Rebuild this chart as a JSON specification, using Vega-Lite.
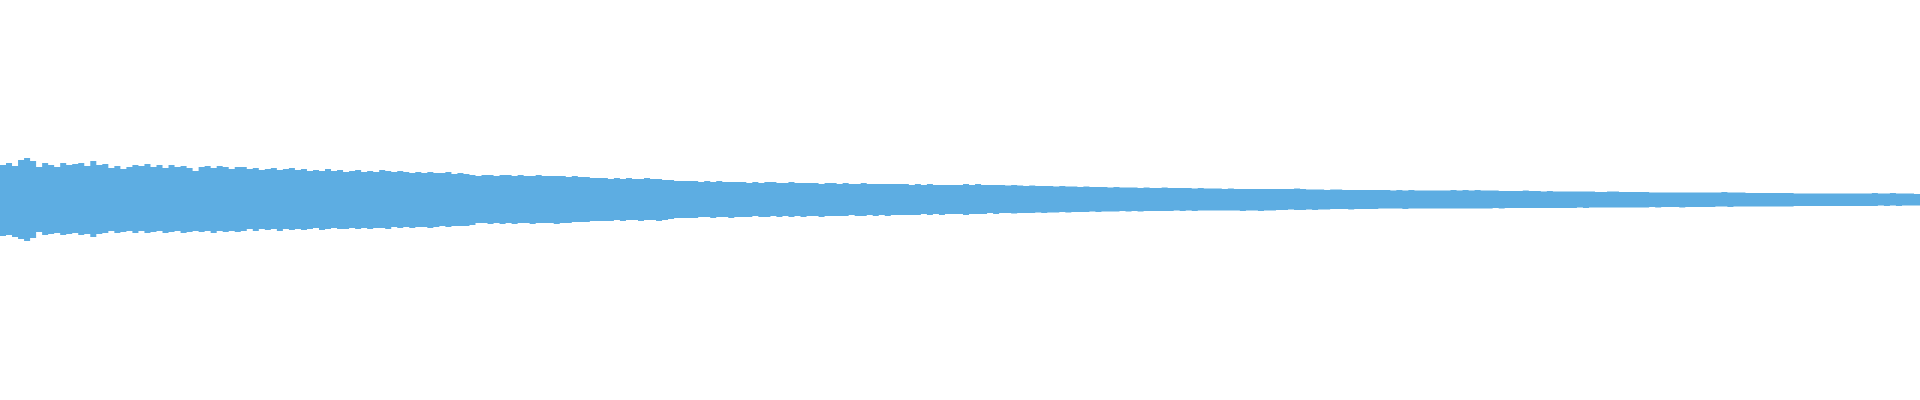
{
  "$schema": "https://vega.github.io/schema/vega-lite/v6.json",
  "width": 1920,
  "height": 400,
  "autosize": {"type": "fit", "contains": "padding"},
  "padding": 0,
  "background": "white",
  "config": {"view": {"stroke": null}},
  "data": {"values": [
{"t":0,"hi":35,"lo":-36},{"t":1,"hi":37,"lo":-35},{"t":2,"hi":34,"lo":-37},{"t":3,"hi":40,"lo":-39},{"t":4,"hi":42,"lo":-41},{"t":5,"hi":39,"lo":-38},{"t":6,"hi":33,"lo":-32},{"t":7,"hi":37,"lo":-35},{"t":8,"hi":35,"lo":-34},{"t":9,"hi":33,"lo":-33},
{"t":10,"hi":37,"lo":-35},{"t":11,"hi":35,"lo":-34},{"t":12,"hi":36,"lo":-33},{"t":13,"hi":37,"lo":-35},{"t":14,"hi":34,"lo":-34},{"t":15,"hi":39,"lo":-37},{"t":16,"hi":35,"lo":-34},{"t":17,"hi":36,"lo":-33},{"t":18,"hi":32,"lo":-31},{"t":19,"hi":34,"lo":-33},
{"t":20,"hi":31,"lo":-32},{"t":21,"hi":33,"lo":-31},{"t":22,"hi":35,"lo":-33},{"t":23,"hi":34,"lo":-31},{"t":24,"hi":36,"lo":-33},{"t":25,"hi":33,"lo":-32},{"t":26,"hi":35,"lo":-31},{"t":27,"hi":32,"lo":-33},{"t":28,"hi":35,"lo":-32},{"t":29,"hi":33,"lo":-31},
{"t":30,"hi":34,"lo":-33},{"t":31,"hi":32,"lo":-32},{"t":32,"hi":29,"lo":-31},{"t":33,"hi":33,"lo":-32},{"t":34,"hi":34,"lo":-31},{"t":35,"hi":32,"lo":-33},{"t":36,"hi":34,"lo":-31},{"t":37,"hi":33,"lo":-32},{"t":38,"hi":31,"lo":-31},{"t":39,"hi":33,"lo":-32},
{"t":40,"hi":33,"lo":-31},{"t":41,"hi":31,"lo":-29},{"t":42,"hi":32,"lo":-31},{"t":43,"hi":30,"lo":-29},{"t":44,"hi":31,"lo":-30},{"t":45,"hi":32,"lo":-29},{"t":46,"hi":30,"lo":-31},{"t":47,"hi":31,"lo":-29},{"t":48,"hi":32,"lo":-30},{"t":49,"hi":30,"lo":-29},
{"t":50,"hi":31,"lo":-30},{"t":51,"hi":29,"lo":-29},{"t":52,"hi":30,"lo":-28},{"t":53,"hi":29,"lo":-30},{"t":54,"hi":31,"lo":-29},{"t":55,"hi":29,"lo":-28},{"t":56,"hi":30,"lo":-29},{"t":57,"hi":28,"lo":-29},{"t":58,"hi":29,"lo":-28},{"t":59,"hi":30,"lo":-29},
{"t":60,"hi":28,"lo":-28},{"t":61,"hi":29,"lo":-29},{"t":62,"hi":28,"lo":-28},{"t":63,"hi":30,"lo":-28},{"t":64,"hi":29,"lo":-29},{"t":65,"hi":28,"lo":-27},{"t":66,"hi":29,"lo":-28},{"t":67,"hi":28,"lo":-27},{"t":68,"hi":27,"lo":-28},{"t":69,"hi":28,"lo":-27},
{"t":70,"hi":27,"lo":-27},{"t":71,"hi":28,"lo":-28},{"t":72,"hi":27,"lo":-27},{"t":73,"hi":27,"lo":-26},{"t":74,"hi":28,"lo":-27},{"t":75,"hi":26,"lo":-26},{"t":76,"hi":27,"lo":-26},{"t":77,"hi":26,"lo":-26},{"t":78,"hi":25,"lo":-25},{"t":79,"hi":24,"lo":-23},
{"t":80,"hi":25,"lo":-23},{"t":81,"hi":25,"lo":-24},{"t":82,"hi":24,"lo":-23},{"t":83,"hi":25,"lo":-24},{"t":84,"hi":25,"lo":-23},{"t":85,"hi":24,"lo":-24},{"t":86,"hi":25,"lo":-23},{"t":87,"hi":24,"lo":-23},{"t":88,"hi":24,"lo":-24},{"t":89,"hi":25,"lo":-23},
{"t":90,"hi":24,"lo":-23},{"t":91,"hi":24,"lo":-23},{"t":92,"hi":24,"lo":-24},{"t":93,"hi":24,"lo":-23},{"t":94,"hi":23,"lo":-23},{"t":95,"hi":24,"lo":-22},{"t":96,"hi":23,"lo":-22},{"t":97,"hi":23,"lo":-22},{"t":98,"hi":22,"lo":-21},{"t":99,"hi":22,"lo":-21},
{"t":100,"hi":22,"lo":-21},{"t":101,"hi":21,"lo":-21},{"t":102,"hi":22,"lo":-20},{"t":103,"hi":21,"lo":-21},{"t":104,"hi":22,"lo":-20},{"t":105,"hi":21,"lo":-20},{"t":106,"hi":21,"lo":-21},{"t":107,"hi":22,"lo":-20},{"t":108,"hi":21,"lo":-20},{"t":109,"hi":21,"lo":-21},
{"t":110,"hi":20,"lo":-20},{"t":111,"hi":20,"lo":-19},{"t":112,"hi":19,"lo":-18},{"t":113,"hi":19,"lo":-18},{"t":114,"hi":19,"lo":-18},{"t":115,"hi":19,"lo":-18},{"t":116,"hi":18,"lo":-17},{"t":117,"hi":19,"lo":-17},{"t":118,"hi":18,"lo":-18},{"t":119,"hi":19,"lo":-17},
{"t":120,"hi":18,"lo":-17},{"t":121,"hi":18,"lo":-18},{"t":122,"hi":18,"lo":-17},{"t":123,"hi":18,"lo":-17},{"t":124,"hi":17,"lo":-17},{"t":125,"hi":18,"lo":-16},{"t":126,"hi":17,"lo":-17},{"t":127,"hi":18,"lo":-17},{"t":128,"hi":18,"lo":-16},{"t":129,"hi":17,"lo":-17},
{"t":130,"hi":17,"lo":-16},{"t":131,"hi":18,"lo":-17},{"t":132,"hi":17,"lo":-16},{"t":133,"hi":17,"lo":-17},{"t":134,"hi":17,"lo":-16},{"t":135,"hi":17,"lo":-16},{"t":136,"hi":16,"lo":-17},{"t":137,"hi":17,"lo":-16},{"t":138,"hi":17,"lo":-16},{"t":139,"hi":16,"lo":-16},
{"t":140,"hi":17,"lo":-16},{"t":141,"hi":16,"lo":-15},{"t":142,"hi":16,"lo":-16},{"t":143,"hi":17,"lo":-16},{"t":144,"hi":16,"lo":-15},{"t":145,"hi":16,"lo":-16},{"t":146,"hi":16,"lo":-15},{"t":147,"hi":16,"lo":-16},{"t":148,"hi":16,"lo":-15},{"t":149,"hi":16,"lo":-15},
{"t":150,"hi":16,"lo":-15},{"t":151,"hi":15,"lo":-15},{"t":152,"hi":16,"lo":-15},{"t":153,"hi":15,"lo":-14},{"t":154,"hi":16,"lo":-15},{"t":155,"hi":15,"lo":-14},{"t":156,"hi":15,"lo":-15},{"t":157,"hi":15,"lo":-14},{"t":158,"hi":15,"lo":-14},{"t":159,"hi":15,"lo":-14},
{"t":160,"hi":16,"lo":-15},{"t":161,"hi":15,"lo":-14},{"t":162,"hi":16,"lo":-14},{"t":163,"hi":15,"lo":-14},{"t":164,"hi":15,"lo":-13},{"t":165,"hi":15,"lo":-14},{"t":166,"hi":15,"lo":-13},{"t":167,"hi":14.5,"lo":-13},{"t":168,"hi":15,"lo":-13.5},{"t":169,"hi":14.5,"lo":-13},
{"t":170,"hi":14,"lo":-13},{"t":171,"hi":14.5,"lo":-13},{"t":172,"hi":14,"lo":-12.5},{"t":173,"hi":14,"lo":-13},{"t":174,"hi":14,"lo":-12.5},{"t":175,"hi":13.5,"lo":-12.5},{"t":176,"hi":14,"lo":-12},{"t":177,"hi":13.5,"lo":-12.5},{"t":178,"hi":13.5,"lo":-12},{"t":179,"hi":13,"lo":-12},
{"t":180,"hi":13.5,"lo":-12},{"t":181,"hi":13,"lo":-11.5},{"t":182,"hi":13,"lo":-12},{"t":183,"hi":13,"lo":-11.5},{"t":184,"hi":12.5,"lo":-11.5},{"t":185,"hi":13,"lo":-11.5},{"t":186,"hi":12.5,"lo":-11},{"t":187,"hi":12.5,"lo":-11.5},{"t":188,"hi":12.5,"lo":-11},{"t":189,"hi":12,"lo":-11.5},
{"t":190,"hi":12.5,"lo":-11},{"t":191,"hi":12,"lo":-11},{"t":192,"hi":12,"lo":-11},{"t":193,"hi":12.5,"lo":-11},{"t":194,"hi":12,"lo":-11},{"t":195,"hi":12,"lo":-10.5},{"t":196,"hi":12,"lo":-11},{"t":197,"hi":12,"lo":-10.5},{"t":198,"hi":11.5,"lo":-11},{"t":199,"hi":12,"lo":-10.5},
{"t":200,"hi":11.5,"lo":-10.5},{"t":201,"hi":11.5,"lo":-10.5},{"t":202,"hi":11.5,"lo":-10.5},{"t":203,"hi":11,"lo":-10.5},{"t":204,"hi":11.5,"lo":-10.5},{"t":205,"hi":11,"lo":-10.5},{"t":206,"hi":11,"lo":-11},{"t":207,"hi":11,"lo":-10.5},{"t":208,"hi":11,"lo":-10.5},{"t":209,"hi":11,"lo":-11},
{"t":210,"hi":11,"lo":-10.5},{"t":211,"hi":11,"lo":-10.5},{"t":212,"hi":11,"lo":-10},{"t":213,"hi":11,"lo":-10},{"t":214,"hi":11,"lo":-9.5},{"t":215,"hi":11.5,"lo":-10},{"t":216,"hi":11,"lo":-10},{"t":217,"hi":10.5,"lo":-9.5},{"t":218,"hi":10.5,"lo":-10},{"t":219,"hi":10.5,"lo":-9.5},
{"t":220,"hi":10,"lo":-9.5},{"t":221,"hi":10.5,"lo":-9},{"t":222,"hi":10.5,"lo":-9},{"t":223,"hi":10,"lo":-9},{"t":224,"hi":10,"lo":-9.5},{"t":225,"hi":10,"lo":-9},{"t":226,"hi":10,"lo":-9},{"t":227,"hi":10,"lo":-9},{"t":228,"hi":10,"lo":-9},{"t":229,"hi":10,"lo":-8.5},
{"t":230,"hi":10,"lo":-8.5},{"t":231,"hi":9.5,"lo":-8.5},{"t":232,"hi":10,"lo":-8.5},{"t":233,"hi":9.5,"lo":-9},{"t":234,"hi":10,"lo":-8.5},{"t":235,"hi":9.5,"lo":-8.5},{"t":236,"hi":9.5,"lo":-8.5},{"t":237,"hi":9.5,"lo":-8.5},{"t":238,"hi":9.5,"lo":-8.5},{"t":239,"hi":9.5,"lo":-8.5},
{"t":240,"hi":9.5,"lo":-8.5},{"t":241,"hi":10,"lo":-8.5},{"t":242,"hi":9.5,"lo":-8.5},{"t":243,"hi":10,"lo":-8.5},{"t":244,"hi":9.5,"lo":-8.5},{"t":245,"hi":10,"lo":-8.5},{"t":246,"hi":9.5,"lo":-8.5},{"t":247,"hi":9.5,"lo":-8.5},{"t":248,"hi":9.5,"lo":-8},{"t":249,"hi":9,"lo":-8.5},
{"t":250,"hi":9,"lo":-8},{"t":251,"hi":9,"lo":-8},{"t":252,"hi":9,"lo":-8},{"t":253,"hi":9.5,"lo":-8},{"t":254,"hi":9,"lo":-8},{"t":255,"hi":9,"lo":-8},{"t":256,"hi":8.5,"lo":-8},{"t":257,"hi":9,"lo":-8},{"t":258,"hi":8.5,"lo":-8},{"t":259,"hi":8.5,"lo":-8},
{"t":260,"hi":8.5,"lo":-8},{"t":261,"hi":8.5,"lo":-8},{"t":262,"hi":8.5,"lo":-7.5},{"t":263,"hi":8.5,"lo":-8},{"t":264,"hi":8.5,"lo":-7.5},{"t":265,"hi":8,"lo":-7.5},{"t":266,"hi":8,"lo":-7.5},{"t":267,"hi":8.5,"lo":-7.5},{"t":268,"hi":8.5,"lo":-7.5},{"t":269,"hi":8,"lo":-7.5},
{"t":270,"hi":8,"lo":-7.5},{"t":271,"hi":8,"lo":-7.5},{"t":272,"hi":8,"lo":-7.5},{"t":273,"hi":8,"lo":-7.5},{"t":274,"hi":7.5,"lo":-7},{"t":275,"hi":7.5,"lo":-7.5},{"t":276,"hi":7.5,"lo":-7},{"t":277,"hi":7.5,"lo":-7},{"t":278,"hi":7.5,"lo":-7},{"t":279,"hi":7.5,"lo":-7.5},
{"t":280,"hi":7.5,"lo":-7},{"t":281,"hi":7.5,"lo":-7},{"t":282,"hi":7.5,"lo":-7},{"t":283,"hi":7.5,"lo":-7},{"t":284,"hi":7.5,"lo":-7},{"t":285,"hi":7.5,"lo":-6.5},{"t":286,"hi":8,"lo":-6.5},{"t":287,"hi":7.5,"lo":-7},{"t":288,"hi":7.5,"lo":-6.5},{"t":289,"hi":7.5,"lo":-6.5},
{"t":290,"hi":7,"lo":-6.5},{"t":291,"hi":7,"lo":-6.5},{"t":292,"hi":7,"lo":-6.5},{"t":293,"hi":7,"lo":-6.5},{"t":294,"hi":7,"lo":-6.5},{"t":295,"hi":7,"lo":-6.5},{"t":296,"hi":7,"lo":-6.5},{"t":297,"hi":7,"lo":-6.5},{"t":298,"hi":6.5,"lo":-6},{"t":299,"hi":6.5,"lo":-6},
{"t":300,"hi":6.5,"lo":-6},{"t":301,"hi":6.5,"lo":-6},{"t":302,"hi":6.5,"lo":-6},{"t":303,"hi":6.5,"lo":-6},{"t":304,"hi":6.5,"lo":-6},{"t":305,"hi":6.5,"lo":-6},{"t":306,"hi":6.5,"lo":-6},{"t":307,"hi":6.5,"lo":-6},{"t":308,"hi":6.5,"lo":-6},{"t":309,"hi":6.5,"lo":-6},
{"t":310,"hi":6.5,"lo":-6},{"t":311,"hi":7,"lo":-6},{"t":312,"hi":6.5,"lo":-5.5},{"t":313,"hi":6.5,"lo":-6},{"t":314,"hi":7,"lo":-5.5},{"t":315,"hi":6.5,"lo":-6},{"t":316,"hi":6.5,"lo":-5.5},{"t":317,"hi":6.5,"lo":-5.5},{"t":318,"hi":6,"lo":-5.5},{"t":319,"hi":6,"lo":-5.5}
  ]},
  "mark": {"type": "area", "interpolate": "step-after", "color": "#5dade2", "opacity": 1},
  "encoding": {
    "x": {"field": "t", "type": "quantitative", "scale": {"domain": [0, 319], "nice": false, "zero": false}, "axis": null},
    "y": {"field": "hi", "type": "quantitative", "scale": {"domain": [-200, 200], "nice": false}, "axis": null},
    "y2": {"field": "lo"}
  }
}
